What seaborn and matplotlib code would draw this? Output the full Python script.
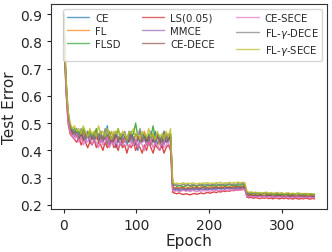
import numpy as np
import pandas as pd
import matplotlib
matplotlib.use('Agg')
import matplotlib.pyplot as plt
import seaborn as sns

# test error per method, read off every 3 epochs (0, 3, ..., 345)
# each list: warm-up + plateau 1 (epochs 0-147), plateau 2 (150-249), plateau 3 (252-345)
ce = ([0.90, 0.66, 0.53, 0.48,
       0.47, 0.46, 0.48, 0.45, 0.47, 0.44, 0.46, 0.45, 0.43, 0.46, 0.44, 0.47, 0.45, 0.43, 0.45, 0.44,
       0.49, 0.42, 0.44, 0.45, 0.41, 0.44, 0.46, 0.43, 0.45, 0.42, 0.44, 0.47, 0.43, 0.44, 0.40, 0.45,
       0.43, 0.46, 0.42, 0.44, 0.45, 0.43, 0.47, 0.42, 0.44, 0.41, 0.45, 0.43, 0.44, 0.46]
      + [0.258, 0.254, 0.256, 0.252, 0.255, 0.257, 0.253, 0.256, 0.254, 0.258, 0.255, 0.257, 0.253,
         0.259, 0.256, 0.258, 0.255, 0.260, 0.257, 0.259, 0.256, 0.261, 0.258, 0.260, 0.257, 0.262,
         0.259, 0.261, 0.258, 0.263, 0.260, 0.262, 0.264, 0.261]
      + [0.236, 0.233, 0.235, 0.231, 0.234, 0.232, 0.235, 0.230, 0.233, 0.231, 0.234, 0.232, 0.229,
         0.233, 0.231, 0.234, 0.230, 0.232, 0.229, 0.233, 0.231, 0.230, 0.233, 0.229, 0.232, 0.230,
         0.233, 0.231, 0.229, 0.232, 0.230, 0.231])

fl = ([0.90, 0.65, 0.52, 0.48,
       0.46, 0.47, 0.45, 0.46, 0.44, 0.47, 0.45, 0.46, 0.44, 0.45, 0.47, 0.44, 0.46, 0.45, 0.43, 0.46,
       0.44, 0.45, 0.47, 0.43, 0.45, 0.44, 0.46, 0.43, 0.45, 0.44, 0.46, 0.45, 0.43, 0.46, 0.44, 0.45,
       0.43, 0.47, 0.44, 0.45, 0.43, 0.46, 0.44, 0.45, 0.42, 0.45, 0.44, 0.46, 0.44, 0.45]
      + [0.266, 0.263, 0.265, 0.262, 0.266, 0.264, 0.267, 0.263, 0.265, 0.268, 0.264, 0.266, 0.263,
         0.267, 0.265, 0.268, 0.264, 0.266, 0.269, 0.265, 0.267, 0.264, 0.268, 0.266, 0.269, 0.265,
         0.268, 0.266, 0.270, 0.267, 0.269, 0.266, 0.270, 0.268]
      + [0.242, 0.238, 0.240, 0.237, 0.239, 0.236, 0.238, 0.240, 0.236, 0.238, 0.235, 0.239, 0.237,
         0.236, 0.238, 0.235, 0.237, 0.239, 0.236, 0.237, 0.235, 0.238, 0.236, 0.234, 0.237, 0.235,
         0.238, 0.236, 0.234, 0.237, 0.235, 0.236])

flsd = ([0.90, 0.67, 0.54, 0.49,
         0.47, 0.48, 0.46, 0.47, 0.45, 0.48, 0.46, 0.45, 0.47, 0.44, 0.46, 0.48, 0.45, 0.47, 0.44, 0.46,
         0.45, 0.47, 0.44, 0.46, 0.45, 0.48, 0.44, 0.46, 0.45, 0.43, 0.47, 0.45, 0.46, 0.50, 0.45, 0.44,
         0.46, 0.45, 0.43, 0.46, 0.45, 0.49, 0.44, 0.46, 0.45, 0.43, 0.47, 0.45, 0.44, 0.46]
        + [0.270, 0.273, 0.268, 0.271, 0.269, 0.267, 0.271, 0.273, 0.269, 0.270, 0.272, 0.268, 0.271,
           0.274, 0.270, 0.268, 0.272, 0.270, 0.273, 0.271, 0.269, 0.273, 0.271, 0.274, 0.270, 0.272,
           0.275, 0.271, 0.273, 0.270, 0.274, 0.272, 0.275, 0.273]
        + [0.244, 0.242, 0.239, 0.243, 0.240, 0.242, 0.238, 0.241, 0.243, 0.240, 0.238, 0.241, 0.239,
           0.242, 0.238, 0.240, 0.237, 0.241, 0.239, 0.238, 0.240, 0.237, 0.239, 0.241, 0.238, 0.236,
           0.239, 0.237, 0.240, 0.238, 0.236, 0.238])

ls = ([0.90, 0.63, 0.50, 0.46,
       0.45, 0.44, 0.43, 0.45, 0.42, 0.44, 0.43, 0.41, 0.43, 0.42, 0.44, 0.41, 0.43, 0.42, 0.40, 0.43,
       0.41, 0.42, 0.44, 0.41, 0.42, 0.40, 0.43, 0.41, 0.42, 0.39, 0.42, 0.41, 0.43, 0.40, 0.42, 0.41,
       0.39, 0.42, 0.40, 0.43, 0.41, 0.39, 0.42, 0.41, 0.40, 0.42, 0.39, 0.41, 0.42, 0.40]
      + [0.246, 0.243, 0.241, 0.244, 0.240, 0.238, 0.241, 0.239, 0.237, 0.240, 0.242, 0.239, 0.241,
         0.244, 0.241, 0.243, 0.246, 0.243, 0.245, 0.248, 0.245, 0.249, 0.247, 0.251, 0.249, 0.252,
         0.250, 0.254, 0.252, 0.256, 0.254, 0.258, 0.256, 0.260]
      + [0.229, 0.226, 0.228, 0.224, 0.227, 0.225, 0.223, 0.226, 0.224, 0.227, 0.223, 0.225, 0.222,
         0.226, 0.224, 0.222, 0.225, 0.223, 0.226, 0.222, 0.224, 0.221, 0.225, 0.223, 0.221, 0.224,
         0.222, 0.225, 0.223, 0.221, 0.224, 0.222])

mmce = ([0.90, 0.64, 0.52, 0.47,
         0.46, 0.45, 0.47, 0.44, 0.46, 0.45, 0.43, 0.46, 0.44, 0.45, 0.43, 0.46, 0.44, 0.47, 0.43, 0.45,
         0.44, 0.42, 0.45, 0.43, 0.46, 0.44, 0.42, 0.45, 0.43, 0.44, 0.46, 0.43, 0.45, 0.42, 0.44, 0.47,
         0.43, 0.44, 0.42, 0.45, 0.43, 0.44, 0.42, 0.46, 0.43, 0.44, 0.42, 0.45, 0.43, 0.44]
        + [0.259, 0.256, 0.258, 0.255, 0.257, 0.260, 0.256, 0.258, 0.255, 0.259, 0.257, 0.260, 0.256,
           0.259, 0.257, 0.261, 0.258, 0.260, 0.257, 0.261, 0.259, 0.262, 0.258, 0.261, 0.259, 0.263,
           0.260, 0.262, 0.259, 0.263, 0.261, 0.264, 0.262, 0.265]
        + [0.235, 0.232, 0.234, 0.231, 0.233, 0.230, 0.233, 0.231, 0.234, 0.230, 0.232, 0.231, 0.229,
           0.232, 0.230, 0.233, 0.229, 0.231, 0.230, 0.232, 0.229, 0.231, 0.228, 0.231, 0.229, 0.232,
           0.230, 0.228, 0.231, 0.229, 0.230, 0.228])

ce_dece = ([0.89, 0.65, 0.53, 0.48,
            0.46, 0.47, 0.45, 0.44, 0.46, 0.44, 0.45, 0.47, 0.43, 0.45, 0.44, 0.46, 0.43, 0.45, 0.44, 0.46,
            0.42, 0.45, 0.43, 0.44, 0.46, 0.43, 0.45, 0.42, 0.44, 0.45, 0.43, 0.46, 0.44, 0.42, 0.45, 0.43,
            0.44, 0.46, 0.43, 0.45, 0.42, 0.44, 0.43, 0.45, 0.44, 0.42, 0.45, 0.43, 0.44, 0.45]
           + [0.263, 0.260, 0.262, 0.259, 0.263, 0.261, 0.258, 0.262, 0.260, 0.263, 0.261, 0.264, 0.260,
              0.262, 0.265, 0.261, 0.263, 0.260, 0.264, 0.262, 0.265, 0.261, 0.264, 0.262, 0.266, 0.263,
              0.265, 0.262, 0.266, 0.264, 0.267, 0.264, 0.266, 0.268]
           + [0.238, 0.235, 0.237, 0.234, 0.236, 0.233, 0.236, 0.234, 0.232, 0.235, 0.233, 0.236, 0.232,
              0.234, 0.233, 0.235, 0.232, 0.234, 0.231, 0.234, 0.232, 0.235, 0.231, 0.233, 0.232, 0.234,
              0.231, 0.233, 0.230, 0.233, 0.231, 0.232])

ce_sece = ([0.90, 0.63, 0.51, 0.47,
            0.45, 0.44, 0.46, 0.43, 0.45, 0.42, 0.44, 0.43, 0.45, 0.42, 0.44, 0.43, 0.41, 0.44, 0.42, 0.43,
            0.45, 0.41, 0.43, 0.42, 0.44, 0.41, 0.43, 0.42, 0.44, 0.42, 0.41, 0.43, 0.42, 0.44, 0.41, 0.43,
            0.42, 0.40, 0.43, 0.42, 0.44, 0.41, 0.43, 0.42, 0.40, 0.43, 0.41, 0.42, 0.43, 0.41]
           + [0.253, 0.250, 0.252, 0.249, 0.251, 0.254, 0.250, 0.252, 0.249, 0.253, 0.251, 0.248, 0.252,
              0.250, 0.253, 0.251, 0.254, 0.250, 0.253, 0.251, 0.255, 0.252, 0.254, 0.251, 0.255, 0.253,
              0.256, 0.252, 0.255, 0.253, 0.257, 0.254, 0.256, 0.258]
           + [0.233, 0.230, 0.232, 0.229, 0.231, 0.228, 0.231, 0.229, 0.232, 0.228, 0.230, 0.228, 0.231,
              0.227, 0.230, 0.228, 0.229, 0.227, 0.230, 0.228, 0.226, 0.229, 0.227, 0.230, 0.227, 0.229,
              0.226, 0.228, 0.227, 0.229, 0.226, 0.228])

fl_g_dece = ([0.90, 0.67, 0.54, 0.49,
              0.48, 0.46, 0.47, 0.45, 0.48, 0.46, 0.44, 0.47, 0.45, 0.46, 0.44, 0.47, 0.45, 0.46, 0.44, 0.48,
              0.45, 0.46, 0.44, 0.45, 0.47, 0.44, 0.46, 0.45, 0.47, 0.44, 0.46, 0.45, 0.43, 0.46, 0.45, 0.48,
              0.44, 0.46, 0.45, 0.44, 0.47, 0.45, 0.43, 0.46, 0.44, 0.45, 0.47, 0.44, 0.46, 0.45]
             + [0.275, 0.272, 0.274, 0.271, 0.273, 0.276, 0.272, 0.274, 0.271, 0.275, 0.273, 0.270, 0.274,
                0.272, 0.275, 0.273, 0.276, 0.272, 0.275, 0.273, 0.277, 0.274, 0.276, 0.273, 0.277, 0.275,
                0.278, 0.274, 0.277, 0.275, 0.278, 0.276, 0.279, 0.277]
             + [0.247, 0.244, 0.246, 0.242, 0.245, 0.243, 0.241, 0.244, 0.242, 0.245, 0.241, 0.243, 0.242,
                0.240, 0.243, 0.241, 0.244, 0.240, 0.242, 0.241, 0.239, 0.242, 0.240, 0.243, 0.239, 0.241,
                0.240, 0.242, 0.239, 0.241, 0.240, 0.238])

fl_g_sece = ([0.90, 0.68, 0.55, 0.50,
              0.48, 0.49, 0.47, 0.48, 0.46, 0.49, 0.47, 0.45, 0.48, 0.46, 0.47, 0.45, 0.49, 0.46, 0.47, 0.45,
              0.48, 0.46, 0.44, 0.47, 0.46, 0.48, 0.45, 0.47, 0.46, 0.44, 0.47, 0.46, 0.48, 0.45, 0.46, 0.44,
              0.47, 0.46, 0.45, 0.48, 0.45, 0.46, 0.44, 0.47, 0.45, 0.46, 0.44, 0.47, 0.45, 0.48]
             + [0.282, 0.278, 0.280, 0.277, 0.279, 0.281, 0.277, 0.280, 0.278, 0.281, 0.279, 0.276, 0.280,
                0.278, 0.281, 0.279, 0.282, 0.278, 0.280, 0.279, 0.282, 0.280, 0.283, 0.279, 0.281, 0.280,
                0.283, 0.280, 0.282, 0.281, 0.284, 0.281, 0.283, 0.282]
             + [0.250, 0.246, 0.248, 0.245, 0.247, 0.244, 0.246, 0.243, 0.245, 0.247, 0.243, 0.245, 0.242,
                0.244, 0.246, 0.242, 0.244, 0.241, 0.243, 0.245, 0.241, 0.243, 0.240, 0.242, 0.244, 0.240,
                0.242, 0.241, 0.239, 0.242, 0.240, 0.241])

methods = ['CE', 'FL', 'FLSD', 'LS(0.05)', 'MMCE', 'CE-DECE',
           'CE-SECE', 'FL-$\\gamma$-DECE', 'FL-$\\gamma$-SECE']
series = [ce, fl, flsd, ls, mmce, ce_dece, ce_sece, fl_g_dece, fl_g_sece]
epoch_step = 3

rows = []
for name, vals in zip(methods, series):
    for i, v in enumerate(vals):
        rows.append((name, i * epoch_step, v))
df = pd.DataFrame(rows, columns=['method', 'epoch', 'error'])

sns.set_style('ticks')
plt.rcParams['font.family'] = ['DejaVu Sans']
colors = sns.color_palette('tab10', len(methods))

fig = plt.figure(figsize=(3.32, 2.53), dpi=100)
ax = fig.add_axes([0.154, 0.170, 0.831, 0.810])
sns.lineplot(data=df, x='epoch', y='error', hue='method', hue_order=methods,
             palette=colors, linewidth=1.0, alpha=0.85, ax=ax)

ax.set_ylim(0.185, 0.937)
ax.set_xticks([0, 100, 200, 300])
ax.set_yticks([0.2, 0.3, 0.4, 0.5, 0.6, 0.7, 0.8, 0.9])
ax.tick_params(labelsize=10, length=3, width=0.8)
ax.set_xlabel('Epoch', fontsize=11, labelpad=1)
ax.set_ylabel('Test Error', fontsize=11, labelpad=2)
for s in ax.spines.values():
    s.set_color('#333333')
    s.set_linewidth(0.8)

leg = ax.legend(loc='upper right', ncol=3, fontsize=7.3, handlelength=2.2,
                columnspacing=2.1, labelspacing=0.3, borderaxespad=0.45,
                handletextpad=0.6, frameon=True)
for line in leg.get_lines():
    line.set_linewidth(1.0)
    line.set_alpha(0.7)

fig.savefig('out.png', dpi=100)
